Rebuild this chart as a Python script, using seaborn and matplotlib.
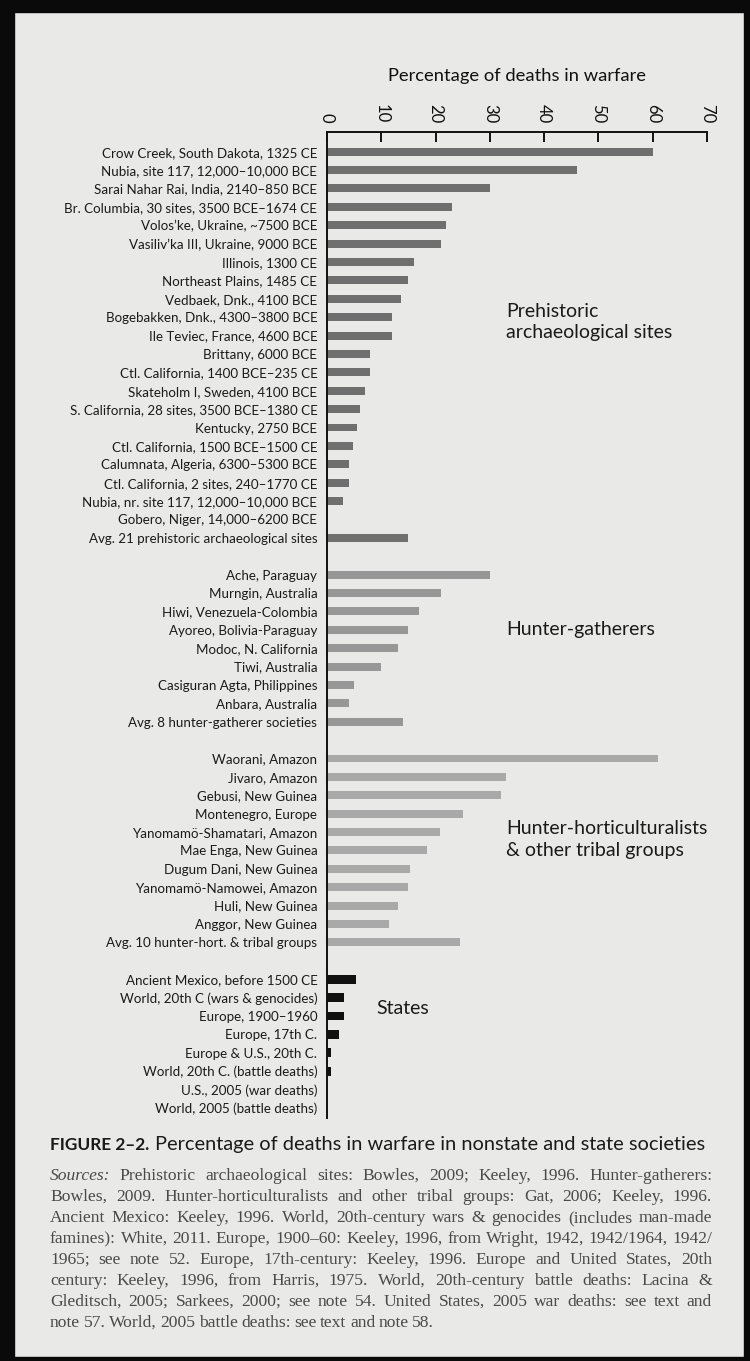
import matplotlib
matplotlib.use("Agg")
import matplotlib.pyplot as plt
import seaborn as sns
import pandas as pd
from matplotlib.patches import Rectangle

# ---- data -------------------------------------------------------------
prehistoric_sites = [
    "Crow Creek, South Dakota, 1325 CE",
    "Nubia, site 117, 12,000–10,000 BCE",
    "Sarai Nahar Rai, India, 2140–850 BCE",
    "Br. Columbia, 30 sites, 3500 BCE–1674 CE",
    "Volos’ke, Ukraine, ~7500 BCE",
    "Vasiliv’ka III, Ukraine, 9000 BCE",
    "Illinois, 1300 CE",
    "Northeast Plains, 1485 CE",
    "Vedbaek, Dnk., 4100 BCE",
    "Bogebakken, Dnk., 4300–3800 BCE",
    "Ile Teviec, France, 4600 BCE",
    "Brittany, 6000 BCE",
    "Ctl. California, 1400 BCE–235 CE",
    "Skateholm I, Sweden, 4100 BCE",
    "S. California, 28 sites, 3500 BCE–1380 CE",
    "Kentucky, 2750 BCE",
    "Ctl. California, 1500 BCE–1500 CE",
    "Calumnata, Algeria, 6300–5300 BCE",
    "Ctl. California, 2 sites, 240–1770 CE",
    "Nubia, nr. site 117, 12,000–10,000 BCE",
    "Gobero, Niger, 14,000–6200 BCE",
    "Avg. 21 prehistoric archaeological sites",
]
prehistoric_pct = [60, 46, 30, 23, 22, 21, 16, 15, 13.6, 12, 12, 8, 8, 7, 6,
                   5.5, 4.8, 4, 4, 3, 0, 15]

hunter_gatherers = [
    "Ache, Paraguay",
    "Murngin, Australia",
    "Hiwi, Venezuela-Colombia",
    "Ayoreo, Bolivia-Paraguay",
    "Modoc, N. California",
    "Tiwi, Australia",
    "Casiguran Agta, Philippines",
    "Anbara, Australia",
    "Avg. 8 hunter-gatherer societies",
]
hunter_gatherer_pct = [30, 21, 17, 15, 13, 10, 5, 4, 14]

tribal_groups = [
    "Waorani, Amazon",
    "Jivaro, Amazon",
    "Gebusi, New Guinea",
    "Montenegro, Europe",
    "Yanomamö-Shamatari, Amazon",
    "Mae Enga, New Guinea",
    "Dugum Dani, New Guinea",
    "Yanomamö-Namowei, Amazon",
    "Huli, New Guinea",
    "Anggor, New Guinea",
    "Avg. 10 hunter-hort. & tribal groups",
]
tribal_pct = [61, 33, 32, 25, 20.8, 18.5, 15.3, 15, 13, 11.5, 24.5]

states = [
    "Ancient Mexico, before 1500 CE",
    "World, 20th C (wars & genocides)",
    "Europe, 1900–1960",
    "Europe, 17th C.",
    "Europe & U.S., 20th C.",
    "World, 20th C. (battle deaths)",
    "U.S., 2005 (war deaths)",
    "World, 2005 (battle deaths)",
]
states_pct = [5.3, 3.2, 3.2, 2.2, 0.7, 0.7, 0.0, 0.0]

x_ticks = [0, 10, 20, 30, 40, 50, 60, 70]

group_names = [
    "Prehistoric\narchaeological sites",
    "Hunter-gatherers",
    "Hunter-horticulturalists\n& other tribal groups",
    "States",
]
group_colors = ["#6f6f6f", "#979797", "#a9a9a9", "#111111"]
group_widths = [0.43, 0.43, 0.43, 0.48]

# ---- table ------------------------------------------------------------
groups = [
    (group_names[0], prehistoric_sites, prehistoric_pct),
    (group_names[1], hunter_gatherers, hunter_gatherer_pct),
    (group_names[2], tribal_groups, tribal_pct),
    (group_names[3], states, states_pct),
]
rows = []
order = []
for gi, (gname, labels, vals) in enumerate(groups):
    if gi > 0:
        order.append(" " * gi)          # blank row between groups
    for lab, v in zip(labels, vals):
        rows.append({"label": lab, "pct": v, "group": gname})
        order.append(lab)
df = pd.DataFrame(rows)

# ---- figure -----------------------------------------------------------
sns.set_theme(style="white")
plt.rcParams["font.family"] = ["Lato", "DejaVu Sans"]

paper = "#e9e9e7"
W, H = 750, 1361
fig = plt.figure(figsize=(W / 100, H / 100), dpi=100, facecolor=paper)
ax = fig.add_axes([327 / W, 1 - 1118 / H, 380 / W, 986 / H])
ax.set_facecolor(paper)

for gname, col, w in zip(group_names, group_colors, group_widths):
    sub = df[df["group"] == gname]
    sns.barplot(data=sub, x="pct", y="label", order=order, orient="h",
                color=col, width=w, saturation=1, linewidth=0,
                errorbar=None, ax=ax)

ax.set_xlim(0, 70)
ax.set_ylim(len(order) - 1 + 0.55, -1.07)

ax.xaxis.tick_top()
ax.xaxis.set_label_position("top")
ax.set_xticks(x_ticks)
ax.set_xticklabels([str(t) for t in x_ticks], rotation=270)
ax.tick_params(axis="x", direction="in", length=7, width=1.4, pad=6.5,
               labelsize=12, colors="#111111")
ax.tick_params(axis="y", length=0, pad=7, labelsize=9.6, labelcolor="#1a1a1a")
ax.set_yticks(range(len(order)))
ax.set_yticklabels(order)

ax.set_xlabel("Percentage of deaths in warfare", fontsize=13.2,
              color="#111111", labelpad=16)
ax.set_ylabel("")

for side in ("right", "bottom"):
    ax.spines[side].set_visible(False)
for side in ("top", "left"):
    ax.spines[side].set_visible(True)
    ax.spines[side].set_color("#111111")
    ax.spines[side].set_linewidth(1.4)

# group titles beside the bars
title_kw = dict(fontsize=14, va="center", ha="left", color="#1a1a1a",
                linespacing=1.3)
ax.text(33, 9.25, group_names[0], **title_kw)
ax.text(33, 26.0, group_names[1], **title_kw)
ax.text(33, 37.4, group_names[2], **title_kw)
ax.text(9.0, 46.6, group_names[3], **title_kw)

# ---- caption ----------------------------------------------------------
fig.canvas.draw()
renderer = fig.canvas.get_renderer()

cap_y = 1 - 1150 / H
t1 = fig.text(50 / W, cap_y, "FIGURE 2–2.", fontsize=12.4,
              fontweight="bold", color="#1a1a1a", va="baseline")
bb = t1.get_window_extent(renderer)
fig.text(bb.x1 / W + 6 / W, cap_y,
         "Percentage of deaths in warfare in nonstate and state societies",
         fontsize=14.4, color="#1a1a1a", va="baseline")

source_lines = [
    "Sources: Prehistoric archaeological sites: Bowles, 2009; Keeley, 1996. Hunter-gatherers:",
    "Bowles, 2009. Hunter-horticulturalists and other tribal groups: Gat, 2006; Keeley, 1996.",
    "Ancient Mexico: Keeley, 1996. World, 20th-century wars & genocides (includes man-made",
    "famines): White, 2011. Europe, 1900–60: Keeley, 1996, from Wright, 1942, 1942/1964, 1942/",
    "1965; see note 52. Europe, 17th-century: Keeley, 1996. Europe and United States, 20th",
    "century: Keeley, 1996, from Harris, 1975. World, 20th-century battle deaths: Lacina &",
    "Gleditsch, 2005; Sarkees, 2000; see note 54. United States, 2005 war deaths: see text and",
    "note 57. World, 2005 battle deaths: see text and note 58.",
]
serif = ["Liberation Serif", "DejaVu Serif"]
src_kw = dict(fontsize=12.6, family=serif, color="#4a4a4a", va="baseline")
left_px, right_px = 50, 712
y0 = 1180

# justified paragraph: words spread across the full measure
for i, line in enumerate(source_lines):
    yy = 1 - (y0 + i * 21.0) / H
    words = line.split(" ")
    texts = []
    for j, wd in enumerate(words):
        style = "italic" if (i == 0 and j == 0) else "normal"
        texts.append(fig.text(0, yy, wd, style=style, **src_kw))
    widths = [t.get_window_extent(renderer).width for t in texts]
    if i < len(source_lines) - 1:
        gap = (right_px - left_px - sum(widths)) / (len(words) - 1)
    else:
        gap = max(texts[0].get_window_extent(renderer).height * 0.22, 3.5)
    x = left_px
    for t, wdt in zip(texts, widths):
        t.set_x(x / W)
        x += wdt + gap

# dark frame around the page
frame = "#0a0a0a"
for (x, y, w, h) in [(0, 0, 14, H), (0, 0, W, 12),
                     (744, 0, 6, H), (0, 1357, W, 4)]:
    fig.patches.append(Rectangle((x / W, 1 - (y + h) / H), w / W, h / H,
                                 transform=fig.transFigure,
                                 color=frame, zorder=10))

fig.savefig("out.png", dpi=100, facecolor=paper)
